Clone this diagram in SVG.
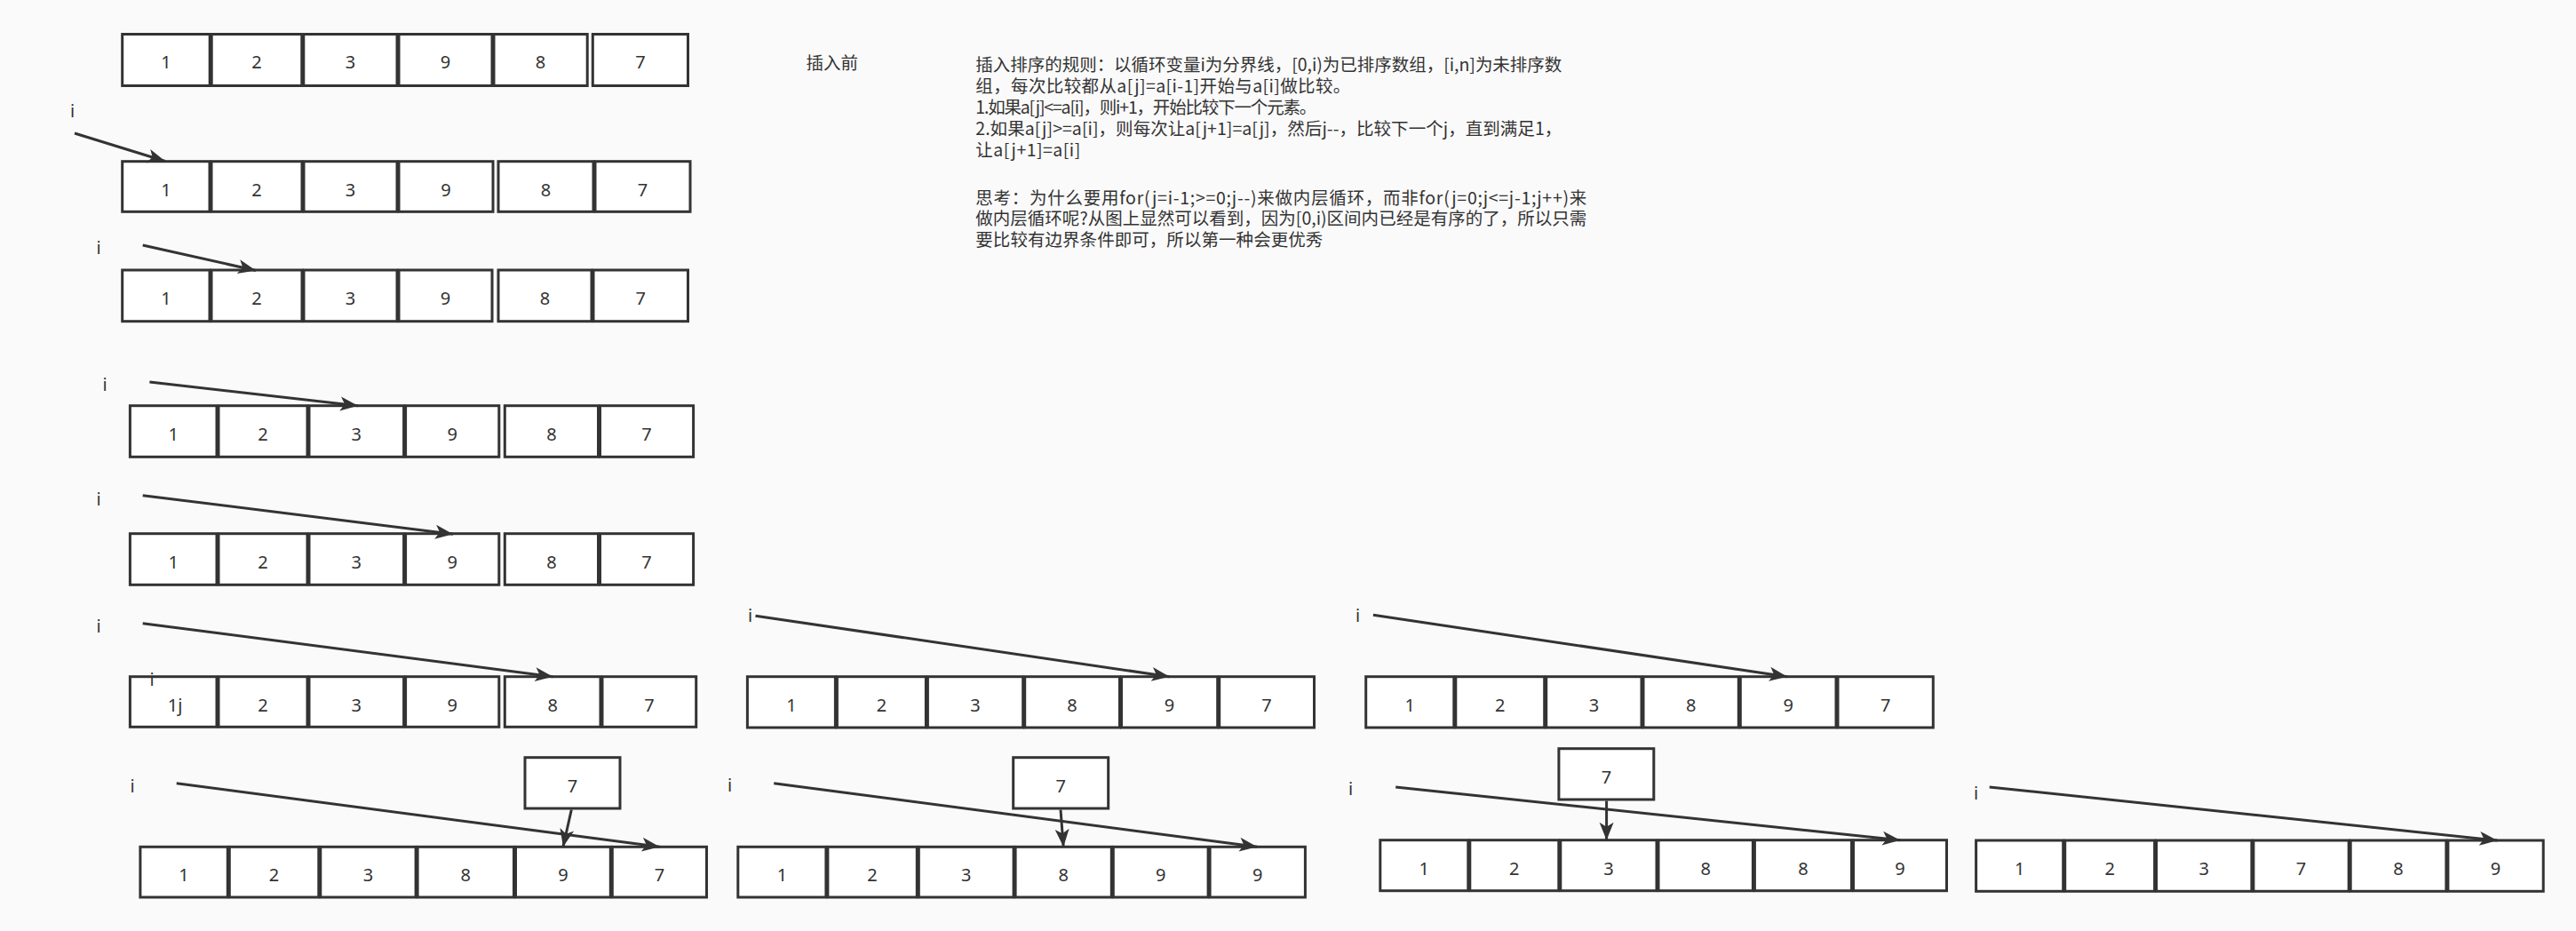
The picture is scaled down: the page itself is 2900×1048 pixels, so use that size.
<svg xmlns="http://www.w3.org/2000/svg" width="2900" height="1048" viewBox="0 0 2900 1048">
<style>
.bg{fill:#fafafa}
.cell{fill:#ffffff;stroke:#333333;stroke-width:3}
.num{font-family:"Noto Sans","Liberation Sans",sans-serif;font-size:20px;fill:#333333;text-anchor:middle}
.lbl{font-family:"Noto Sans","Liberation Sans",sans-serif;font-size:20px;fill:#333333;text-anchor:middle}
.txt{font-family:"Noto Sans CJK SC","Noto Sans",sans-serif;font-size:19.5px;fill:#333333}
.edge{fill:none;stroke:#333333;stroke-width:3;marker-end:url(#arr)}
</style>
<defs>
<marker id="arr" markerUnits="userSpaceOnUse" viewBox="0 0 20 16" markerWidth="20" markerHeight="16" refX="20" refY="8" orient="auto" overflow="visible">
<path d="M0,0 L20,8 L0,16 L5,8 Z" fill="#333333"/>
</marker>
</defs>
<rect class="bg" x="0" y="0" width="2900" height="1048"/>

<g id="row1">
<g id="r1c1"><rect class="cell" x="137.7" y="38.5" width="98.5" height="58"/><text class="num" x="187" y="77.3">1</text></g>
<g id="r1c2"><rect class="cell" x="238.2" y="38.5" width="101.6" height="58"/><text class="num" x="289" y="77.3">2</text></g>
<g id="r1c3"><rect class="cell" x="341.8" y="38.5" width="105.2" height="58"/><text class="num" x="394.4" y="77.3">3</text></g>
<g id="r1c4"><rect class="cell" x="449" y="38.5" width="105" height="58"/><text class="num" x="501.5" y="77.3">9</text></g>
<g id="r1c5"><rect class="cell" x="556" y="38.5" width="105.2" height="58"/><text class="num" x="608.6" y="77.3">8</text></g>
<g id="r1c6"><rect class="cell" x="667.3" y="38.5" width="107.2" height="58"/><text class="num" x="720.9" y="77.3">7</text></g>
</g>

<g id="row2">
<g id="r2c1"><rect class="cell" x="137.7" y="181.7" width="98.3" height="56.6"/><text class="num" x="186.9" y="220.7">1</text></g>
<g id="r2c2"><rect class="cell" x="238" y="181.7" width="102" height="56.6"/><text class="num" x="289" y="220.7">2</text></g>
<g id="r2c3"><rect class="cell" x="342" y="181.7" width="105" height="56.6"/><text class="num" x="394.5" y="220.7">3</text></g>
<g id="r2c4"><rect class="cell" x="449" y="181.7" width="106" height="56.6"/><text class="num" x="502" y="220.7">9</text></g>
<g id="r2c5"><rect class="cell" x="561" y="181.7" width="107" height="56.6"/><text class="num" x="614.5" y="220.7">8</text></g>
<g id="r2c6"><rect class="cell" x="670" y="181.7" width="107" height="56.6"/><text class="num" x="723.5" y="220.7">7</text></g>
</g>

<g id="row3">
<g id="r3c1"><rect class="cell" x="137.7" y="304" width="98.3" height="57.7"/><text class="num" x="186.9" y="343">1</text></g>
<g id="r3c2"><rect class="cell" x="238" y="304" width="102" height="57.7"/><text class="num" x="289" y="343">2</text></g>
<g id="r3c3"><rect class="cell" x="342" y="304" width="105" height="57.7"/><text class="num" x="394.5" y="343">3</text></g>
<g id="r3c4"><rect class="cell" x="449" y="304" width="105" height="57.7"/><text class="num" x="501.5" y="343">9</text></g>
<g id="r3c5"><rect class="cell" x="561" y="304" width="105" height="57.7"/><text class="num" x="613.5" y="343">8</text></g>
<g id="r3c6"><rect class="cell" x="668" y="304" width="106.5" height="57.7"/><text class="num" x="721.3" y="343">7</text></g>
</g>

<g id="row4">
<g id="r4c1"><rect class="cell" x="146.4" y="456.7" width="97.6" height="57.6"/><text class="num" x="195.2" y="495.7">1</text></g>
<g id="r4c2"><rect class="cell" x="246" y="456.7" width="100" height="57.6"/><text class="num" x="296" y="495.7">2</text></g>
<g id="r4c3"><rect class="cell" x="348" y="456.7" width="106.6" height="57.6"/><text class="num" x="401.3" y="495.7">3</text></g>
<g id="r4c4"><rect class="cell" x="456.6" y="456.7" width="105.2" height="57.6"/><text class="num" x="509.2" y="495.7">9</text></g>
<g id="r4c5"><rect class="cell" x="568.3" y="456.7" width="105.2" height="57.6"/><text class="num" x="620.9" y="495.7">8</text></g>
<g id="r4c6"><rect class="cell" x="675.5" y="456.7" width="105.1" height="57.6"/><text class="num" x="728" y="495.7">7</text></g>
</g>

<g id="row5">
<g id="r5c1"><rect class="cell" x="146.4" y="600.7" width="97.6" height="57.6"/><text class="num" x="195.2" y="639.7">1</text></g>
<g id="r5c2"><rect class="cell" x="246" y="600.7" width="100" height="57.6"/><text class="num" x="296" y="639.7">2</text></g>
<g id="r5c3"><rect class="cell" x="348" y="600.7" width="106.6" height="57.6"/><text class="num" x="401.3" y="639.7">3</text></g>
<g id="r5c4"><rect class="cell" x="456.6" y="600.7" width="105.2" height="57.6"/><text class="num" x="509.2" y="639.7">9</text></g>
<g id="r5c5"><rect class="cell" x="568.3" y="600.7" width="105.2" height="57.6"/><text class="num" x="620.9" y="639.7">8</text></g>
<g id="r5c6"><rect class="cell" x="675.5" y="600.7" width="105.1" height="57.6"/><text class="num" x="728" y="639.7">7</text></g>
</g>

<g id="row6a">
<g id="r6ac1"><rect class="cell" x="146.4" y="761.7" width="97.6" height="56.6"/><text class="num" x="197" y="800.7">1j</text></g>
<g id="r6ac2"><rect class="cell" x="246" y="761.7" width="100" height="56.6"/><text class="num" x="296" y="800.7">2</text></g>
<g id="r6ac3"><rect class="cell" x="348" y="761.7" width="106.6" height="56.6"/><text class="num" x="401.3" y="800.7">3</text></g>
<g id="r6ac4"><rect class="cell" x="456.6" y="761.7" width="105.2" height="56.6"/><text class="num" x="509.2" y="800.7">9</text></g>
<g id="r6ac5"><rect class="cell" x="568.3" y="761.7" width="107.7" height="56.6"/><text class="num" x="622.2" y="800.7">8</text></g>
<g id="r6ac6"><rect class="cell" x="678" y="761.7" width="105.7" height="56.6"/><text class="num" x="730.9" y="800.7">7</text></g>
</g>

<g id="row7a">
<g id="r7ac1"><rect class="cell" x="157.9" y="953.3" width="98.4" height="56.7"/><text class="num" x="207.1" y="992.3">1</text></g>
<g id="r7ac2"><rect class="cell" x="258.3" y="953.3" width="100.5" height="56.7"/><text class="num" x="308.6" y="992.3">2</text></g>
<g id="r7ac3"><rect class="cell" x="360.8" y="953.3" width="107.3" height="56.7"/><text class="num" x="414.5" y="992.3">3</text></g>
<g id="r7ac4"><rect class="cell" x="470.1" y="953.3" width="108.4" height="56.7"/><text class="num" x="524.3" y="992.3">8</text></g>
<g id="r7ac5"><rect class="cell" x="580.5" y="953.3" width="106.8" height="56.7"/><text class="num" x="633.9" y="992.3">9</text></g>
<g id="r7ac6"><rect class="cell" x="689.3" y="953.3" width="106.2" height="56.7"/><text class="num" x="742.4" y="992.3">7</text></g>
</g>

<g id="row6b">
<g id="r6bc1"><rect class="cell" x="841.4" y="761.7" width="99" height="57.3"/><text class="num" x="890.9" y="800.7">1</text></g>
<g id="r6bc2"><rect class="cell" x="942.4" y="761.7" width="100" height="57.3"/><text class="num" x="992.4" y="800.7">2</text></g>
<g id="r6bc3"><rect class="cell" x="1044.4" y="761.7" width="107.3" height="57.3"/><text class="num" x="1098" y="800.7">3</text></g>
<g id="r6bc4"><rect class="cell" x="1153.7" y="761.7" width="106.8" height="57.3"/><text class="num" x="1207.1" y="800.7">8</text></g>
<g id="r6bc5"><rect class="cell" x="1262.5" y="761.7" width="108.2" height="57.3"/><text class="num" x="1316.6" y="800.7">9</text></g>
<g id="r6bc6"><rect class="cell" x="1372.7" y="761.7" width="106.8" height="57.3"/><text class="num" x="1426.1" y="800.7">7</text></g>
</g>

<g id="row7b">
<g id="r7bc1"><rect class="cell" x="830.8" y="953.3" width="99.1" height="56.7"/><text class="num" x="880.4" y="992.3">1</text></g>
<g id="r7bc2"><rect class="cell" x="931.9" y="953.3" width="100.4" height="56.7"/><text class="num" x="982.1" y="992.3">2</text></g>
<g id="r7bc3"><rect class="cell" x="1034.3" y="953.3" width="106.8" height="56.7"/><text class="num" x="1087.7" y="992.3">3</text></g>
<g id="r7bc4"><rect class="cell" x="1143.1" y="953.3" width="108.2" height="56.7"/><text class="num" x="1197.2" y="992.3">8</text></g>
<g id="r7bc5"><rect class="cell" x="1253.3" y="953.3" width="106.8" height="56.7"/><text class="num" x="1306.7" y="992.3">9</text></g>
<g id="r7bc6"><rect class="cell" x="1362.1" y="953.3" width="107.3" height="56.7"/><text class="num" x="1415.8" y="992.3">9</text></g>
</g>

<g id="row6c">
<g id="r6cc1"><rect class="cell" x="1537.7" y="761.7" width="99.1" height="57.3"/><text class="num" x="1587.3" y="800.7">1</text></g>
<g id="r6cc2"><rect class="cell" x="1638.8" y="761.7" width="99.9" height="57.3"/><text class="num" x="1688.8" y="800.7">2</text></g>
<g id="r6cc3"><rect class="cell" x="1740.7" y="761.7" width="107.3" height="57.3"/><text class="num" x="1794.4" y="800.7">3</text></g>
<g id="r6cc4"><rect class="cell" x="1850" y="761.7" width="107.3" height="57.3"/><text class="num" x="1903.7" y="800.7">8</text></g>
<g id="r6cc5"><rect class="cell" x="1959.3" y="761.7" width="107.7" height="57.3"/><text class="num" x="2013.2" y="800.7">9</text></g>
<g id="r6cc6"><rect class="cell" x="2069" y="761.7" width="107.3" height="57.3"/><text class="num" x="2122.7" y="800.7">7</text></g>
</g>

<g id="row7c">
<g id="r7cc1"><rect class="cell" x="1553.8" y="945.7" width="99" height="57"/><text class="num" x="1603.3" y="984.7">1</text></g>
<g id="r7cc2"><rect class="cell" x="1654.8" y="945.7" width="100" height="57"/><text class="num" x="1704.8" y="984.7">2</text></g>
<g id="r7cc3"><rect class="cell" x="1756.8" y="945.7" width="108.2" height="57"/><text class="num" x="1810.9" y="984.7">3</text></g>
<g id="r7cc4"><rect class="cell" x="1867" y="945.7" width="106.4" height="57"/><text class="num" x="1920.2" y="984.7">8</text></g>
<g id="r7cc5"><rect class="cell" x="1975.4" y="945.7" width="109.1" height="57"/><text class="num" x="2030" y="984.7">8</text></g>
<g id="r7cc6"><rect class="cell" x="2086.5" y="945.7" width="105" height="57"/><text class="num" x="2139" y="984.7">9</text></g>
</g>

<g id="row7d">
<g id="r7dc1"><rect class="cell" x="2224.6" y="946" width="98.1" height="57.3"/><text class="num" x="2273.7" y="985">1</text></g>
<g id="r7dc2"><rect class="cell" x="2324.7" y="946" width="100.9" height="57.3"/><text class="num" x="2375.2" y="985">2</text></g>
<g id="r7dc3"><rect class="cell" x="2427.6" y="946" width="107.3" height="57.3"/><text class="num" x="2481.3" y="985">3</text></g>
<g id="r7dc4"><rect class="cell" x="2536.9" y="946" width="107.3" height="57.3"/><text class="num" x="2590.6" y="985">7</text></g>
<g id="r7dc5"><rect class="cell" x="2646.2" y="946" width="107.7" height="57.3"/><text class="num" x="2700.1" y="985">8</text></g>
<g id="r7dc6"><rect class="cell" x="2755.9" y="946" width="107.3" height="57.3"/><text class="num" x="2809.6" y="985">9</text></g>
</g>

<g id="temp-a"><rect class="cell" x="591" y="852.7" width="107" height="57.3"/><text class="num" x="644.5" y="891.7">7</text></g>
<g id="temp-b"><rect class="cell" x="1140.7" y="852.7" width="107" height="57.3"/><text class="num" x="1194.2" y="891.7">7</text></g>
<g id="temp-c"><rect class="cell" x="1754.9" y="842.7" width="106.9" height="57.3"/><text class="num" x="1808.4" y="881.7">7</text></g>

<g id="labels">
<text class="lbl" x="81.5" y="132">i</text>
<text class="lbl" x="111" y="286">i</text>
<text class="lbl" x="118" y="440">i</text>
<text class="lbl" x="111" y="569">i</text>
<text class="lbl" x="111" y="712">i</text>
<text class="lbl" x="171" y="772">i</text>
<text class="lbl" x="149" y="892">i</text>
<text class="lbl" x="844.5" y="700">i</text>
<text class="lbl" x="821.6" y="891">i</text>
<text class="lbl" x="1528.5" y="700">i</text>
<text class="lbl" x="1520.7" y="895">i</text>
<text class="lbl" x="2224.5" y="900">i</text>
</g>

<g id="connectors">
<path class="edge" d="M84,150 L186,181.5"/>
<path class="edge" d="M160.7,276 L288,304.5"/>
<path class="edge" d="M168.4,430 L403,456.7"/>
<path class="edge" d="M160.7,557.7 L510,601.2"/>
<path class="edge" d="M160.7,701.7 L622.4,761.7"/>
<path class="edge" d="M198.7,881.7 L742.7,953.3"/>
<path class="edge" d="M643.3,911.5 L633.9,953.3"/>
<path class="edge" d="M850.5,693.3 L1316.6,761.7"/>
<path class="edge" d="M871.2,881.7 L1415.3,953.3"/>
<path class="edge" d="M1194,911.5 L1197.2,953.3"/>
<path class="edge" d="M1545.9,692.3 L2012,761.7"/>
<path class="edge" d="M1571.2,886 L2139.2,945.7"/>
<path class="edge" d="M1808.6,901.5 L1808.6,945.7"/>
<path class="edge" d="M2239.7,886 L2811.4,946"/>
</g>

<g id="title"><text class="txt" x="907.6" y="77.5">插入前</text></g>

<g id="notes">
<text class="txt" x="1098.3" y="79.7" textLength="660" lengthAdjust="spacing">插入排序的规则：以循环变量i为分界线，[0,i)为已排序数组，[i,n]为未排序数</text>
<text class="txt" x="1098.3" y="103.9" textLength="422" lengthAdjust="spacing">组，每次比较都从a[j]=a[i-1]开始与a[i]做比较。</text>
<text class="txt" x="1098.3" y="128" textLength="384" lengthAdjust="spacing">1.如果a[j]&lt;=a[i]，则i+1，开始比较下一个元素。</text>
<text class="txt" x="1098.3" y="152.1" textLength="660" lengthAdjust="spacing">2.如果a[j]&gt;=a[i]，则每次让a[j+1]=a[j]，然后j--，比较下一个j，直到满足1，</text>
<text class="txt" x="1098.3" y="176.3" textLength="118" lengthAdjust="spacing">让a[j+1]=a[i]</text>
<text class="txt" x="1098.3" y="229.5" textLength="688" lengthAdjust="spacing">思考：为什么要用for(j=i-1;&gt;=0;j--)来做内层循环，而非for(j=0;j&lt;=j-1;j++)来</text>
<text class="txt" x="1098.3" y="253.3" textLength="688" lengthAdjust="spacing">做内层循环呢?从图上显然可以看到，因为[0,i)区间内已经是有序的了，所以只需</text>
<text class="txt" x="1098.3" y="277.1" textLength="391" lengthAdjust="spacing">要比较有边界条件即可，所以第一种会更优秀</text>
</g>
</svg>
